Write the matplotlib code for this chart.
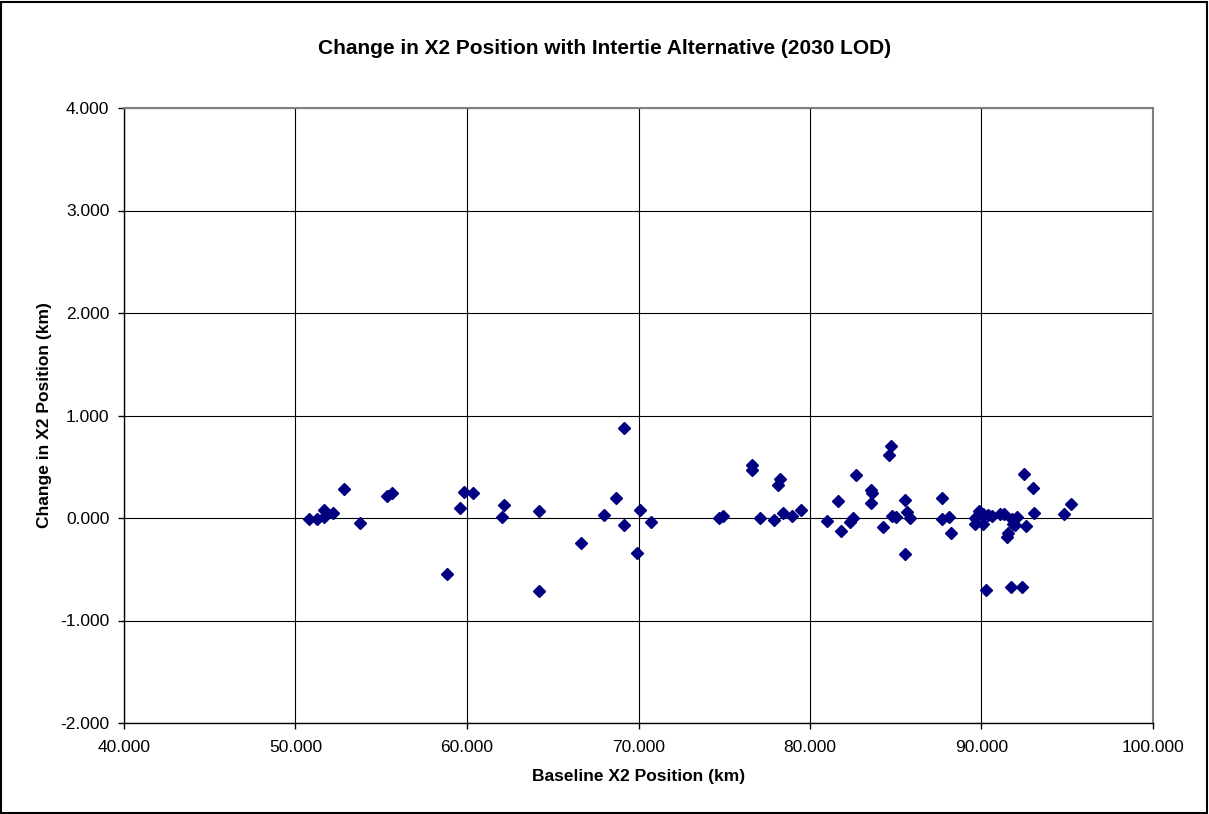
import matplotlib
matplotlib.use("Agg")
import matplotlib.pyplot as plt
from matplotlib.ticker import FormatStrFormatter, MultipleLocator
from matplotlib.patches import Rectangle

baseline_x2 = [50.80, 51.24, 51.68, 51.68, 52.21, 52.85, 53.78, 55.35, 55.61,
               58.83, 59.61, 59.83, 60.35, 62.16, 62.06, 64.20, 64.22,
               66.63, 67.97, 68.69, 69.17, 69.17, 70.07, 69.91, 70.75,
               74.69, 74.91, 76.60, 76.60, 77.10, 77.88, 78.23, 78.15, 78.44, 78.95, 79.49,
               80.99, 81.63, 81.81, 82.33, 82.49, 82.70, 83.54, 83.61, 83.56, 84.28,
               84.59, 84.72, 84.78, 84.99, 85.53, 85.63, 85.83, 85.53,
               87.72, 87.72, 88.13, 88.22,
               89.62, 89.87, 89.62, 90.11, 90.11, 90.40, 90.60, 90.24,
               91.08, 91.31, 91.76, 91.86, 92.05, 91.96, 91.57, 91.47,
               92.59, 93.06, 92.48, 93.00, 91.70, 92.36, 94.83, 95.24]
change_x2 = [-0.01, -0.01, 0.01, 0.08, 0.05, 0.28, -0.05, 0.21, 0.24,
             -0.55, 0.10, 0.25, 0.24, 0.13, 0.01, 0.07, -0.71,
             -0.24, 0.03, 0.20, 0.876, -0.07, 0.08, -0.34, -0.04,
             0.00, 0.02, 0.52, 0.47, 0.00, -0.02, 0.38, 0.32, 0.05, 0.02, 0.08,
             -0.03, 0.17, -0.13, -0.04, 0.00, 0.42, 0.27, 0.24, 0.15, -0.09,
             0.61, 0.70, 0.02, 0.01, 0.18, 0.06, 0.00, -0.35,
             0.20, -0.01, 0.01, -0.15,
             0.00, 0.07, -0.06, 0.04, -0.06, 0.03, 0.02, -0.70,
             0.04, 0.04, -0.01, -0.06, 0.01, -0.07, -0.15, -0.19,
             -0.08, 0.05, 0.43, 0.29, -0.67, -0.67, 0.04, 0.14]

plt.rcParams['font.family'] = ['Liberation Sans', 'DejaVu Sans']

fig = plt.figure(figsize=(12.09, 8.14), dpi=100)
fig.patches.append(Rectangle((0.001, 0.001), 0.997, 0.997, transform=fig.transFigure,
                             fill=False, edgecolor='black', linewidth=1.5))
ax = fig.add_axes([124/1209, 1 - 723/814, (1153-124)/1209, (723-108)/814])

ax.plot(baseline_x2, change_x2, linestyle='none', marker='D', markersize=6,
        color='#000080', markeredgecolor='#000080', zorder=3)

ax.set_xlim(40, 100)
ax.set_ylim(-2, 4)
ax.xaxis.set_major_locator(MultipleLocator(10))
ax.yaxis.set_major_locator(MultipleLocator(1))
ax.xaxis.set_major_formatter(FormatStrFormatter('%.3f'))
ax.yaxis.set_major_formatter(FormatStrFormatter('%.3f'))
ax.grid(True, color='black', linewidth=0.8)
ax.set_axisbelow(True)
for s in ax.spines.values():
    s.set_color('#808080')
    s.set_linewidth(1.5)
ax.spines['left'].set_color('black')
ax.spines['left'].set_linewidth(1)
ax.spines['bottom'].set_color('black')
ax.spines['bottom'].set_linewidth(1)
ax.tick_params(axis='both', direction='out', length=4.5, width=1, color='black',
               labelsize=12.5)
ax.tick_params(axis='x', pad=8)
ax.tick_params(axis='y', pad=6)

ax.set_xlabel('Baseline X2 Position (km)', fontsize=12.5, fontweight='bold', labelpad=10)
ax.set_ylabel('Change in X2 Position (km)', fontsize=12.5, fontweight='bold', labelpad=6)
fig.text(0.5, 1 - 48/814, 'Change in X2 Position with Intertie Alternative (2030 LOD)',
         ha='center', va='center', fontsize=15, fontweight='bold')

fig.savefig('out.png', dpi=100)
